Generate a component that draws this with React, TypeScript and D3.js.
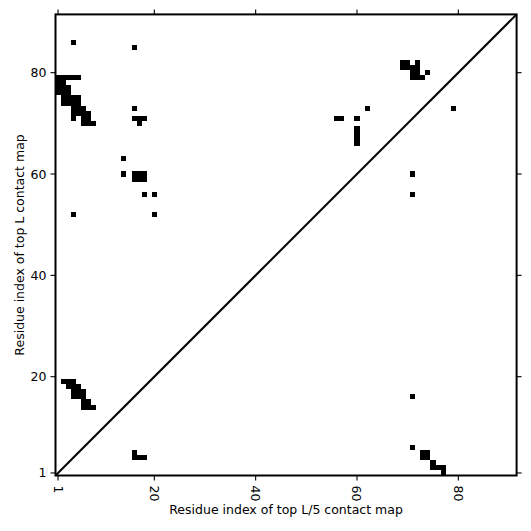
import React from "react";
import * as d3 from "d3";

// Contacts predicted in the top L list (upper-left triangle): [residue i (x), residue j (y)]
const topLContacts: [number, number][] = [
  [4, 86], [16, 85],
  [69, 82], [70, 82], [72, 82],
  [69, 81], [70, 81], [71, 81], [72, 81],
  [71, 80], [72, 80], [74, 80],
  [1, 79], [2, 79], [3, 79], [4, 79], [5, 79], [71, 79], [72, 79], [73, 79],
  [1, 78], [2, 78],
  [1, 77], [2, 77], [3, 77],
  [1, 76], [2, 76], [3, 76],
  [2, 75], [3, 75], [4, 75], [5, 75],
  [2, 74], [3, 74], [4, 74], [5, 74],
  [4, 73], [5, 73], [6, 73], [16, 73], [62, 73],
  [4, 72], [5, 72], [6, 72], [7, 72],
  [4, 71], [6, 71], [7, 71], [16, 71], [17, 71], [18, 71], [56, 71], [57, 71], [60, 71],
  [6, 70], [7, 70], [8, 70], [17, 70],
  [60, 69], [60, 68], [60, 67], [60, 66],
  [14, 63],
  [14, 60], [16, 60], [17, 60], [18, 60],
  [16, 59], [17, 59], [18, 59],
  [18, 56], [20, 56],
  [4, 52], [20, 52],
  [2, 19], [3, 19], [4, 19],
  [3, 18], [4, 18], [5, 18],
  [4, 17], [5, 17], [6, 17],
  [4, 16], [5, 16], [6, 16],
  [6, 15], [7, 15],
  [6, 14], [7, 14], [8, 14],
];

// Contacts in the top L/5 list (lower-right triangle)
const topL5Contacts: [number, number][] = [
  [79, 73],
  [71, 60], [71, 56],
  [71, 16],
  [71, 6],
  [73, 5], [74, 5], [16, 5],
  [73, 4], [74, 4], [16, 4], [17, 4], [18, 4],
  [75, 3],
  [75, 2], [76, 2], [77, 2],
  [77, 1],
];

const residueCount = 91;
const tickValues = [1, 20, 40, 60, 80];
const xLabel = "Residue index of top L/5 contact map";
const yLabel = "Residue index of top L contact map";

export default function App() {
  const W = 531;
  const H = 531;
  const x = d3.scaleLinear().domain([0.5, residueCount + 0.5]).range([55.5, 516.6]);
  const y = d3.scaleLinear().domain([0.5, residueCount + 0.5]).range([475.5, 14.4]);
  const font = "'DejaVu Sans', sans-serif";
  const fs = 12.5;
  const tickLen = 5;

  const cells = [...topLContacts, ...topL5Contacts];

  const [x0, x1] = x.range();
  const [y0, y1] = y.range();

  return (
    <svg
      width={W}
      height={H}
      style={{ position: "absolute", left: 0, top: 0, background: "#fff" }}
      fontFamily={font}
    >
      <g shapeRendering="crispEdges">
        {cells.map(([i, j], k) => (
          <rect
            key={k}
            x={x(i - 0.5)}
            y={y(j + 0.5)}
            width={x(i + 0.5) - x(i - 0.5)}
            height={y(j - 0.5) - y(j + 0.5)}
            fill="#000"
          />
        ))}
      </g>
      <line
        x1={x(0.5)}
        y1={y(0.5)}
        x2={x(residueCount + 0.5)}
        y2={y(residueCount + 0.5)}
        stroke="#000"
        strokeWidth={2}
      />
      {/* ticks */}
      {tickValues.map((t) => (
        <g key={"xt" + t}>
          <line x1={x(t)} x2={x(t)} y1={y0} y2={y0 + tickLen} stroke="#000" strokeWidth={1.1} />
          <line x1={x(t)} x2={x(t)} y1={y1} y2={y1 - tickLen} stroke="#000" strokeWidth={1.1} />
          <text
            transform={`translate(${x(t)},${y0 + 10}) rotate(90)`}
            dy="0.36em"
            textAnchor="start"
            fontSize={fs}
            fill="#000"
          >
            {t}
          </text>
        </g>
      ))}
      {tickValues.map((t) => (
        <g key={"yt" + t}>
          <line x1={x0} x2={x0 - tickLen} y1={y(t)} y2={y(t)} stroke="#000" strokeWidth={1.1} />
          <line x1={x1} x2={x1 + tickLen} y1={y(t)} y2={y(t)} stroke="#000" strokeWidth={1.1} />
          <text x={x0 - 9} y={y(t)} dy="0.36em" textAnchor="end" fontSize={fs} fill="#000">
            {t}
          </text>
        </g>
      ))}
      <rect
        x={x0}
        y={y1}
        width={x1 - x0}
        height={y0 - y1}
        fill="none"
        stroke="#000"
        strokeWidth={2}
      />
      <text x={(x0 + x1) / 2} y={514} textAnchor="middle" fontSize={fs} fill="#000">
        {xLabel}
      </text>
      <text
        transform={`translate(24,${(y0 + y1) / 2}) rotate(-90)`}
        textAnchor="middle"
        fontSize={fs}
        fill="#000"
      >
        {yLabel}
      </text>
    </svg>
  );
}
